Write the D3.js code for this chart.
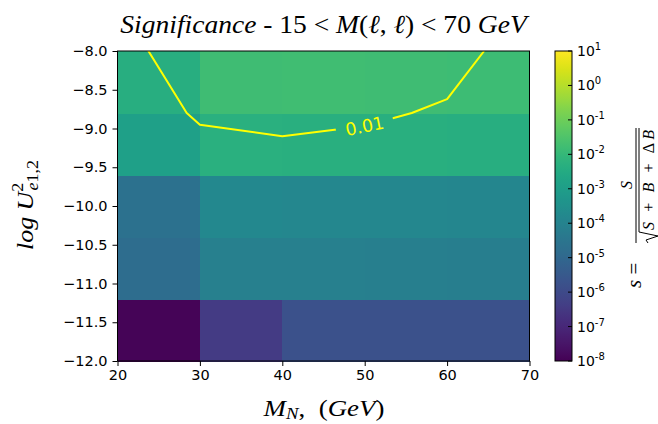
<!DOCTYPE html>
<html>
<head>
<meta charset="utf-8">
<script src="https://cdn.jsdelivr.net/npm/d3@7"></script>
<style>
  html, body { margin: 0; padding: 0; background: #fff; }
  svg { display: block; }
</style>
</head>
<body>
<svg id="chart" width="658" height="424"></svg>
<script>
// Bin edges: heavy-neutrino mass M_N (GeV) and log10 U^2
const massEdges = [20, 30, 40, 50, 60, 70];
const logUEdges = [-12.0, -11.2, -10.4, -9.6, -8.8, -8.0];

// log10 of the significance s in each bin, rows from log U^2 = -12 upward
const logSigRow0 = [-7.90, -6.45, -5.78, -5.78, -5.76];
const logSigRow1 = [-4.81, -4.10, -4.12, -4.14, -4.18];
const logSigRow2 = [-4.66, -3.80, -3.82, -3.84, -3.88];
const logSigRow3 = [-2.92, -2.30, -2.31, -2.33, -2.36];
const logSigRow4 = [-2.35, -1.78, -1.76, -1.79, -1.82];
const logSigCells = [logSigRow0, logSigRow1, logSigRow2, logSigRow3, logSigRow4];

// log10 of s on the bin corners (M_N = 20..70, log U^2 = -12..-8), used for the iso-s line
const cornerRow0 = [-8.00, -6.60, -5.90, -5.90, -5.90, -5.90];
const cornerRow1 = [-4.90, -4.20, -4.20, -4.20, -4.25, -4.30];
const cornerRow2 = [-4.70, -3.85, -3.85, -3.90, -3.90, -3.95];
const cornerRow3 = [-3.30, -2.80, -2.80, -2.80, -2.80, -3.30];
const cornerRow4 = [-2.97, -1.815, -1.52, -1.787, -2.16, -2.90];
const cornerRow5 = [-2.24, -1.60, -1.40, -1.45, -1.445, -2.68];
const cornerGrid = [cornerRow0, cornerRow1, cornerRow2, cornerRow3, cornerRow4, cornerRow5];

const contourLevel = 0.01;
const contourLabel = "0.01";
const contourLabelMass = 50;

// Axis ticks
const xTicks = [20, 30, 40, 50, 60, 70];
const yTicks = [-8.0, -8.5, -9.0, -9.5, -10.0, -10.5, -11.0, -11.5, -12.0];
const cbarExponents = [1, 0, -1, -2, -3, -4, -5, -6, -7, -8];

const svg = d3.select("#chart");
const plot = { left: 117.5, right: 529.5, top: 51, bottom: 361 };
const cbar = { left: 555, right: 572, top: 51, bottom: 361 };
const sansFont = "'DejaVu Sans', sans-serif";
const mathFont = "'Liberation Serif', 'DejaVu Serif', serif";

const x = d3.scaleLinear()
  .domain([massEdges[0], massEdges[massEdges.length - 1]])
  .range([plot.left, plot.right]);
const y = d3.scaleLinear()
  .domain([logUEdges[0], logUEdges[logUEdges.length - 1]])
  .range([plot.bottom, plot.top]);
const color = d3.scaleSequentialLog(d3.interpolateViridis).domain([1e-8, 1e1]);

// stretch a text along its own baseline so it spans the given length
function fitLength(sel, baseTransform, length) {
  const w = sel.node().getBBox().width;
  sel.attr("transform", `${baseTransform} scale(${length / w},1)`);
}

// ---- heat map cells
const cells = [];
logSigCells.forEach((row, r) => row.forEach((v, c) => {
  cells.push({ x0: massEdges[c], x1: massEdges[c + 1], y0: logUEdges[r], y1: logUEdges[r + 1], v });
}));
svg.append("g")
  .attr("shape-rendering", "crispEdges")
  .selectAll("rect")
  .data(cells)
  .join("rect")
  .attr("x", d => x(d.x0))
  .attr("y", d => y(d.y1))
  .attr("width", d => x(d.x1) - x(d.x0) + 0.5)
  .attr("height", d => y(d.y0) - y(d.y1) + 0.5)
  .attr("fill", d => color(Math.pow(10, d.v)));

// ---- iso-significance contour on the corner grid
const nx = cornerGrid[0].length, ny = cornerGrid.length;
const contourGeo = d3.contours()
  .size([nx, ny])
  .thresholds([Math.log10(contourLevel)])(cornerGrid.flat());
const gx = d3.scaleLinear().domain([0.5, nx - 0.5]).range([massEdges[0], massEdges[nx - 1]]);
const gy = d3.scaleLinear().domain([0.5, ny - 0.5]).range([logUEdges[0], logUEdges[ny - 1]]);

const rings = [];
contourGeo.forEach(g => g.coordinates.forEach(poly => poly.forEach(ring => {
  rings.push(ring.map(p => [x(gx(p[0])), y(gy(p[1]))]));
})));

// segments of the line that lie inside the plot, for placing the label
const inside = p => p[1] >= plot.top - 0.01 && p[1] <= plot.bottom + 0.01 &&
                    p[0] >= plot.left - 0.01 && p[0] <= plot.right + 0.01;
function yOnLine(px) {
  for (const ring of rings) {
    for (let i = 0; i < ring.length - 1; i++) {
      const a = ring[i], b = ring[i + 1];
      if (!inside(a) || !inside(b)) continue;
      const lo = Math.min(a[0], b[0]), hi = Math.max(a[0], b[0]);
      if (px >= lo && px <= hi && hi > lo) {
        return a[1] + (b[1] - a[1]) * (px - a[0]) / (b[0] - a[0]);
      }
    }
  }
  return null;
}
const labelX = x(contourLabelMass);
const labelY = yOnLine(labelX);
const halfGap = 29;
const yL = yOnLine(labelX - halfGap), yR = yOnLine(labelX + halfGap);
const labelAngle = Math.atan2(yR - yL, 2 * halfGap) * 180 / Math.PI;

const defs = svg.append("defs");
defs.append("clipPath").attr("id", "plot-clip")
  .append("rect")
  .attr("x", plot.left).attr("y", plot.top)
  .attr("width", plot.right - plot.left).attr("height", plot.bottom - plot.top);
const mask = defs.append("mask").attr("id", "label-gap")
  .attr("maskUnits", "userSpaceOnUse")
  .attr("x", 0).attr("y", 0).attr("width", 658).attr("height", 424);
mask.append("rect").attr("x", 0).attr("y", 0).attr("width", 658).attr("height", 424).attr("fill", "#fff");
mask.append("rect")
  .attr("x", -halfGap).attr("y", -12).attr("width", 2 * halfGap).attr("height", 24)
  .attr("fill", "#000")
  .attr("transform", `translate(${labelX},${labelY}) rotate(${labelAngle})`);

const contourLayer = svg.append("g").attr("clip-path", "url(#plot-clip)");
contourLayer.append("g").attr("mask", "url(#label-gap)")
  .selectAll("path")
  .data(rings)
  .join("path")
  .attr("d", d3.line())
  .attr("fill", "none")
  .attr("stroke", "#ffff00")
  .attr("stroke-width", 2)
  .attr("stroke-linejoin", "round");

svg.append("text")
  .attr("transform", `translate(${labelX},${labelY}) rotate(${labelAngle})`)
  .attr("text-anchor", "middle")
  .attr("dy", "0.36em")
  .attr("font-family", sansFont)
  .attr("font-size", 17.5)
  .attr("fill", "#ffff00")
  .text(contourLabel);

// ---- axes
const xAxis = svg.append("g")
  .attr("transform", `translate(0,${plot.bottom})`)
  .call(d3.axisBottom(x).tickValues(xTicks).tickFormat(d3.format("d")).tickSize(5).tickPadding(4));
const yAxis = svg.append("g")
  .attr("transform", `translate(${plot.left},0)`)
  .call(d3.axisLeft(y).tickValues(yTicks).tickFormat(d3.format(".1f")).tickSize(5).tickPadding(5));
[xAxis, yAxis].forEach(ax => {
  ax.select(".domain").remove();
  ax.selectAll(".tick line").attr("stroke", "#000").attr("stroke-width", 1);
  ax.selectAll(".tick text")
    .attr("font-family", sansFont).attr("font-size", 14.5).attr("fill", "#000");
});

svg.append("rect")
  .attr("x", plot.left).attr("y", plot.top)
  .attr("width", plot.right - plot.left).attr("height", plot.bottom - plot.top)
  .attr("fill", "none").attr("stroke", "#000").attr("stroke-width", 1);

// ---- colour bar
const cbY = d3.scaleLog().domain([1e-8, 1e1]).range([cbar.bottom, cbar.top]);
const grad = defs.append("linearGradient").attr("id", "cbar-grad")
  .attr("x1", 0).attr("y1", 1).attr("x2", 0).attr("y2", 0);
d3.range(0, 1.0001, 0.02).forEach(t => {
  grad.append("stop").attr("offset", t).attr("stop-color", d3.interpolateViridis(t));
});
svg.append("rect")
  .attr("x", cbar.left).attr("y", cbar.top)
  .attr("width", cbar.right - cbar.left).attr("height", cbar.bottom - cbar.top)
  .attr("fill", "url(#cbar-grad)")
  .attr("stroke", "#000").attr("stroke-width", 1);

const cbTicks = svg.append("g").selectAll("g")
  .data(cbarExponents)
  .join("g")
  .attr("transform", e => `translate(0,${cbY(Math.pow(10, e))})`);
cbTicks.append("line")
  .attr("x1", cbar.right - 4).attr("x2", cbar.right)
  .attr("stroke", "#000").attr("stroke-width", 1);
const cbText = cbTicks.append("text")
  .attr("x", cbar.right + 5).attr("y", 5)
  .attr("font-family", sansFont).attr("font-size", 14).attr("fill", "#000");
cbText.append("tspan").text("10");
cbText.append("tspan")
  .attr("dy", -6).attr("font-size", 10)
  .text(e => e < 0 ? "-" + (-e) : String(e));

// ---- title
const titleBase = `translate(${(plot.left + plot.right) / 2},33)`;
const title = svg.append("text")
  .attr("text-anchor", "middle")
  .attr("font-family", mathFont).attr("font-size", 26).attr("fill", "#000");
[
  ["Significance", true], [" - 15 < ", false], ["M", true], ["(", false],
  ["\u2113", true], [", ", false], ["\u2113", true], [") < 70 ", false], ["GeV", true]
].forEach(([s, it]) => title.append("tspan")
  .attr("font-style", it ? "italic" : "normal").attr("xml:space", "preserve").text(s));
fitLength(title, titleBase, 410);

// ---- x label
const xLabelBase = `translate(324,416)`;
const xLabel = svg.append("text")
  .attr("text-anchor", "middle")
  .attr("font-family", mathFont).attr("font-size", 23).attr("fill", "#000");
xLabel.append("tspan").attr("font-style", "italic").text("M");
xLabel.append("tspan").attr("font-style", "italic").attr("font-size", 16).attr("dy", 3).text("N");
xLabel.append("tspan").attr("dy", -3).attr("xml:space", "preserve").text(",  (");
xLabel.append("tspan").attr("font-style", "italic").text("GeV");
xLabel.append("tspan").text(")");
fitLength(xLabel, xLabelBase, 122);

// ---- y label
const yLabelBase = `translate(33,205) rotate(-90)`;
const yLabel = svg.append("text")
  .attr("text-anchor", "middle")
  .attr("font-family", mathFont).attr("font-size", 23).attr("fill", "#000");
yLabel.append("tspan").attr("font-style", "italic").attr("xml:space", "preserve").text("log U");
yLabel.append("tspan").attr("font-size", 16).attr("dy", -10).text("2");
yLabel.append("tspan").attr("font-size", 16).attr("font-style", "italic").attr("dx", -7).attr("dy", 15).text("e");
yLabel.append("tspan").attr("font-size", 16).text("1,2");
fitLength(yLabel, yLabelBase, 90);

// ---- colour bar label: s = S / sqrt(S + B + ΔB)
const cbl = svg.append("g")
  .attr("transform", `translate(637,${(plot.top + plot.bottom) / 2}) rotate(-90)`)
  .attr("font-family", mathFont).attr("fill", "#000");
const sEq = cbl.append("text").attr("x", -82).attr("y", 4).attr("font-size", 21);
sEq.append("tspan").attr("font-style", "italic").text("s");
sEq.append("tspan").attr("xml:space", "preserve").text(" =");
cbl.append("line").attr("x1", -37).attr("x2", 78).attr("y1", -1).attr("y2", -1)
  .attr("stroke", "#000").attr("stroke-width", 1);
cbl.append("text").attr("x", 21).attr("y", -5).attr("text-anchor", "middle")
  .attr("font-size", 16).attr("font-style", "italic").text("S");
cbl.append("path")
  .attr("d", "M-37,11 L-34,9 L-30,21 L-26,2 L78,2")
  .attr("fill", "none").attr("stroke", "#000").attr("stroke-width", 1);
const den = cbl.append("text").attr("x", -24).attr("y", 17).attr("font-size", 16)
  .attr("textLength", 100).attr("lengthAdjust", "spacing");
[["S", true], [" + ", false], ["B", true], [" + ", false], ["\u0394", false], ["B", true]]
  .forEach(([s, it]) => den.append("tspan").attr("font-style", it ? "italic" : "normal")
    .attr("xml:space", "preserve").text(s));
</script>
</body>
</html>
